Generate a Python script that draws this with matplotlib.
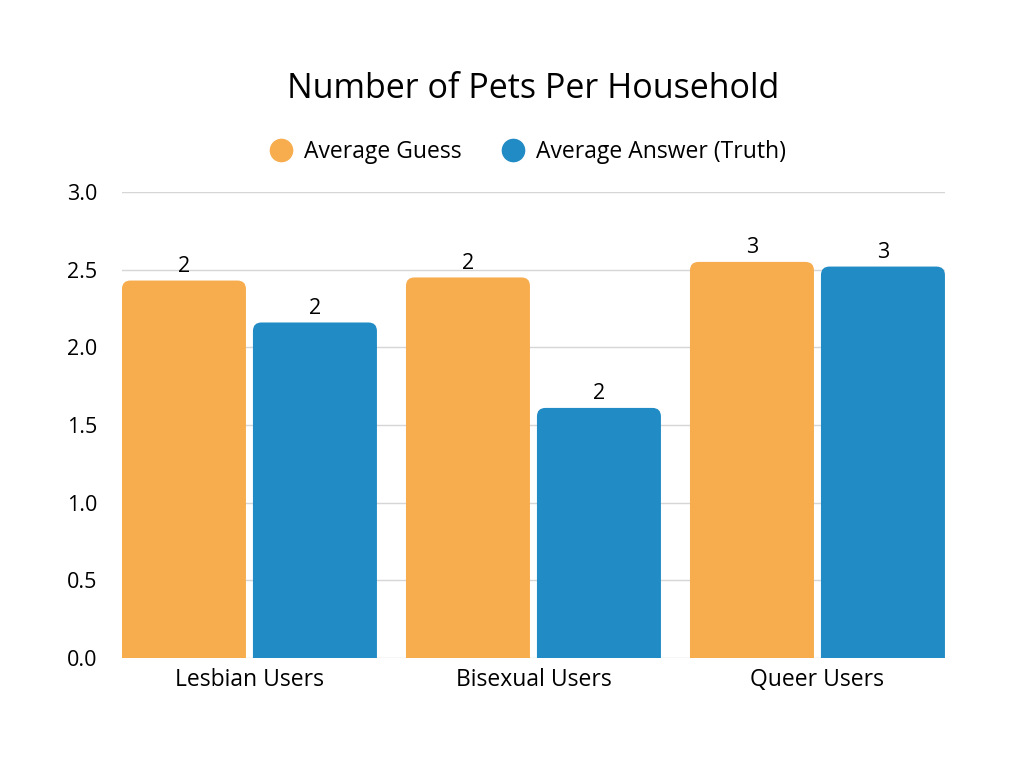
import numpy as np
import matplotlib.pyplot as plt
from matplotlib.patches import FancyBboxPatch
from matplotlib.lines import Line2D

plt.rcParams['font.family'] = ['Open Sans', 'DejaVu Sans']

# data
categories = ['Lesbian Users', 'Bisexual Users', 'Queer Users']
avg_guess = [2.43, 2.45, 2.55]
avg_truth = [2.16, 1.61, 2.52]
series_names = ['Average Guess', 'Average Answer (Truth)']
yticks = [0.0, 0.5, 1.0, 1.5, 2.0, 2.5, 3.0]

orange = '#F7AD4E'
blue = '#208BC4'

fig = plt.figure(figsize=(10.24, 7.68), dpi=100)
ax = fig.add_axes([0.1191, 0.1432, 0.8037, 0.6068])

x = np.arange(len(categories))
w = 0.4366
off = 0.2306


def rounded_bars(xs, heights, color):
    bars = ax.bar(xs, heights, width=w, color=color)
    for b in bars:
        b.set_visible(False)
        patch = FancyBboxPatch((b.get_x(), -0.2), b.get_width(), b.get_height() + 0.2,
                               boxstyle='round,pad=0,rounding_size=0.03',
                               mutation_aspect=1.84, facecolor=color,
                               edgecolor='none', zorder=3)
        ax.add_patch(patch)
        ax.text(b.get_x() + b.get_width() / 2, b.get_height() + 0.025,
                f'{b.get_height():.0f}', ha='center', va='bottom',
                fontsize=15.5, color='black', zorder=4)
    return bars


rounded_bars(x - off, avg_guess, orange)
rounded_bars(x + off, avg_truth, blue)

ax.set_xlim(-off - w / 2, 2 + off + w / 2)
ax.set_ylim(0, 3.0)
ax.set_yticks(yticks)
ax.set_yticklabels([f'{v:.1f}' for v in yticks])
ax.set_xticks(x)
ax.set_xticklabels(categories)
ax.tick_params(axis='both', length=0, colors='black')
ax.tick_params(axis='x', pad=7, labelsize=16.5)
ax.tick_params(axis='y', pad=18, labelsize=15.5)
ax.grid(axis='y', color='#d6d6d6', linewidth=1, zorder=0)
ax.set_axisbelow(True)
for s in ax.spines.values():
    s.set_visible(False)

fig.text(0.521, 0.884, 'Number of Pets Per Household', ha='center', va='center',
         fontsize=24.5)

handles = [Line2D([], [], marker='o', linestyle='none', markersize=16, color=orange),
           Line2D([], [], marker='o', linestyle='none', markersize=16, color=blue)]
fig.legend(handles, series_names, loc='center', bbox_to_anchor=(0.5095, 0.802),
           ncol=2, frameon=False, fontsize=16.5, handletextpad=0.0, columnspacing=1.25)

fig.savefig('out.png', dpi=100)
